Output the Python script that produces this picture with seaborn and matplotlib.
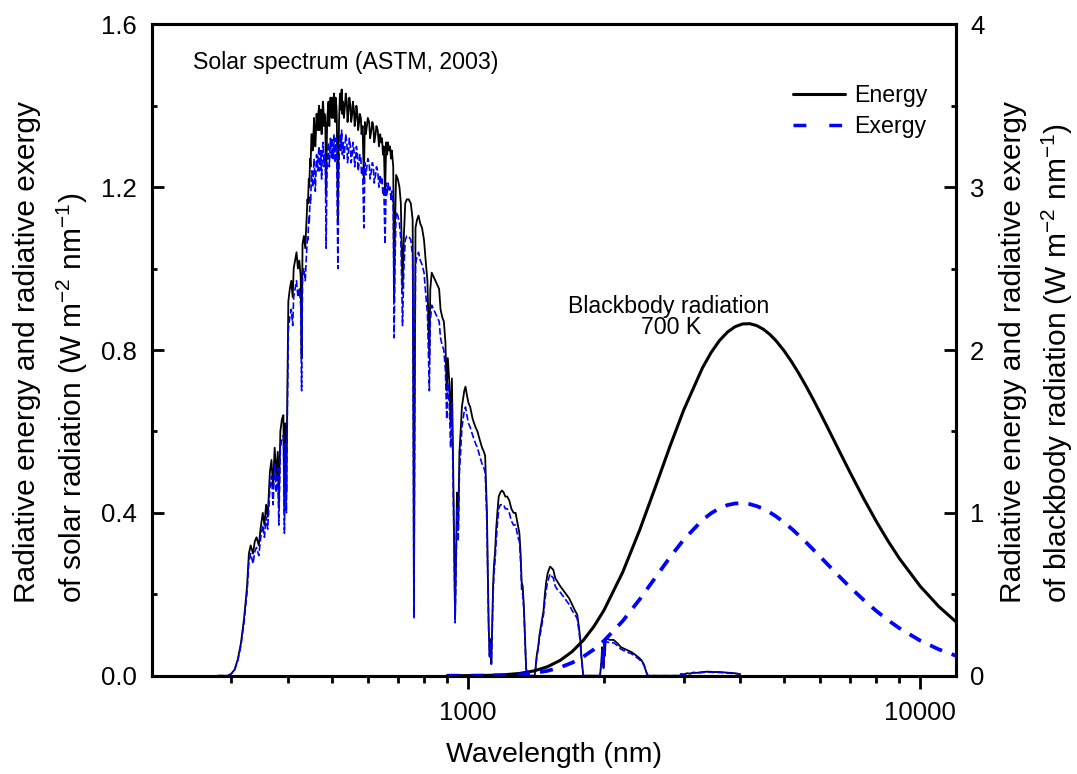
import matplotlib
matplotlib.use("Agg")
import matplotlib.pyplot as plt
import pandas as pd
import seaborn as sns
from matplotlib.lines import Line2D
from matplotlib.ticker import FixedLocator, FixedFormatter, NullFormatter

# ---------------------------------------------------------------------------
# Solar spectrum (ASTM, 2003): wavelength (nm), spectral energy and exergy
# (W m-2 nm-1), left axis
# ---------------------------------------------------------------------------
solar_wl = [
    280, 295, 300, 305, 310, 315, 320, 325, 328, 331,
    335, 338, 341, 345, 348, 352, 355, 358, 361, 365,
    368, 371, 374, 377, 380, 382, 385, 388, 391, 393,
    395, 397, 399, 401, 404, 407, 410, 412, 415, 418,
    421, 424, 427, 429, 431, 434, 437, 440, 442, 443,
    445, 446, 448, 449, 451, 452, 454, 455, 457, 458,
    460, 461, 463, 464, 466, 467, 469, 470, 472, 473,
    475, 476, 478, 479, 481, 482, 484, 486, 488, 489,
    491, 492, 494, 495, 497, 498, 500, 501, 503, 504,
    506, 507, 509, 510, 512, 513, 516, 518, 519, 521,
    522, 524, 526, 528, 530, 532, 535, 537, 540, 542,
    545, 547, 550, 552, 555, 557, 560, 562, 565, 567,
    570, 572, 575, 577, 580, 582, 585, 589, 592, 595,
    598, 601, 605, 608, 612, 615, 618, 621, 625, 628,
    632, 636, 640, 643, 646, 649, 652, 656, 660, 663,
    666, 670, 673, 676, 679, 684, 687, 690, 694, 700,
    706, 711, 717, 722, 727, 733, 740, 748, 755, 758,
    760, 762, 766, 772, 778, 785, 792, 800, 808, 814,
    819, 822, 826, 832, 840, 848, 856, 864, 870, 878,
    885, 892, 898, 903, 910, 916, 922, 927, 932, 937,
    942, 946, 952, 958, 964, 970, 976, 982, 988, 995,
    1003, 1012, 1025, 1040, 1050, 1062, 1075, 1085, 1092, 1097,
    1102, 1107, 1112, 1117, 1122, 1127, 1132, 1137, 1142, 1148,
    1155, 1162, 1170, 1180, 1190, 1200, 1210, 1222, 1235, 1248,
    1262, 1275, 1290, 1300, 1308, 1315, 1322, 1330, 1338, 1345,
    1352, 1405, 1412, 1420, 1430, 1440, 1450, 1460, 1470, 1480,
    1490, 1500, 1510, 1520, 1530, 1545, 1560, 1580, 1600, 1625,
    1650, 1675, 1700, 1725, 1745, 1760, 1772, 1782, 1792, 1800,
    1960, 1975, 1980, 1985, 1990, 1995, 2005, 2010, 2015, 2030,
    2060, 2100, 2140, 2180, 2220, 2260, 2300, 2340, 2380, 2420,
    2450, 2470, 2490, 2500, 2940, 2960, 3000, 3050, 3100, 3150,
    3200, 3300, 3400, 3500, 3600, 3700, 3800, 3900, 4000,
]
solar_energy = [
    0, 0, 0.005, 0.015, 0.04, 0.08, 0.14, 0.22, 0.30, 0.32,
    0.30, 0.33, 0.34, 0.32, 0.36, 0.40, 0.37, 0.42, 0.39, 0.50,
    0.53, 0.46, 0.56, 0.49, 0.55, 0.42, 0.60, 0.63, 0.64, 0.40,
    0.62, 0.45, 0.70, 0.92, 0.95, 0.97, 0.93, 1.00, 1.02, 1.04,
    1.00, 1.02, 0.98, 0.78, 1.06, 1.08, 1.05, 1.12, 1.17, 1.16,
    1.22, 1.20, 1.27, 1.25, 1.33, 1.33, 1.29, 1.31, 1.37, 1.35,
    1.30, 1.32, 1.38, 1.36, 1.34, 1.38, 1.40, 1.34, 1.37, 1.39,
    1.33, 1.36, 1.41, 1.40, 1.35, 1.38, 1.36, 1.18, 1.33, 1.37,
    1.40, 1.41, 1.35, 1.38, 1.42, 1.39, 1.37, 1.42, 1.39, 1.37,
    1.43, 1.40, 1.36, 1.42, 1.40, 1.38, 1.12, 1.30, 1.36, 1.42,
    1.43, 1.39, 1.44, 1.38, 1.41, 1.37, 1.40, 1.43, 1.41, 1.36,
    1.39, 1.42, 1.40, 1.36, 1.38, 1.41, 1.39, 1.35, 1.37, 1.40,
    1.38, 1.34, 1.36, 1.38, 1.37, 1.33, 1.35, 1.22, 1.36, 1.33,
    1.35, 1.37, 1.36, 1.32, 1.34, 1.36, 1.35, 1.31, 1.33, 1.35,
    1.34, 1.30, 1.33, 1.31, 1.32, 1.28, 1.30, 1.18, 1.31, 1.28,
    1.31, 1.29, 1.30, 1.27, 1.29, 1.25, 0.92, 1.10, 1.23, 1.22,
    1.20, 1.16, 0.95, 1.08, 1.16, 1.17, 1.17, 1.16, 1.12, 0.60,
    0.15, 0.55, 1.10, 1.12, 1.13, 1.11, 1.10, 1.07, 1.01, 0.97,
    0.85, 0.78, 0.95, 0.99, 0.98, 0.97, 0.96, 0.95, 0.90, 0.88,
    0.87, 0.82, 0.70, 0.78, 0.72, 0.62, 0.73, 0.55, 0.35, 0.14,
    0.30, 0.45, 0.36, 0.55, 0.60, 0.66, 0.68, 0.70, 0.71, 0.69,
    0.67, 0.66, 0.63, 0.61, 0.60, 0.58, 0.56, 0.55, 0.54, 0.47,
    0.40, 0.25, 0.12, 0.05, 0.09, 0.03, 0.12, 0.22, 0.27, 0.30,
    0.36, 0.40, 0.44, 0.45, 0.455, 0.45, 0.44, 0.44, 0.43, 0.41,
    0.40, 0.40, 0.37, 0.35, 0.30, 0.23, 0.22, 0.17, 0.09, 0.02,
    0, 0, 0.02, 0.05, 0.07, 0.10, 0.12, 0.14, 0.16, 0.20,
    0.23, 0.25, 0.26, 0.268, 0.265, 0.26, 0.24, 0.23, 0.22, 0.21,
    0.20, 0.19, 0.175, 0.16, 0.15, 0.12, 0.09, 0.05, 0.02, 0,
    0, 0.04, 0.07, 0.03, 0.06, 0.02, 0.085, 0.05, 0.088, 0.09,
    0.088, 0.088, 0.08, 0.07, 0.066, 0.062, 0.058, 0.052, 0.046, 0.038,
    0.028, 0.015, 0.004, 0, 0, 0.004, 0.003, 0.006, 0.005, 0.008,
    0.007, 0.009, 0.010, 0.009, 0.009, 0.008, 0.007, 0.006, 0.004,
]
solar_exergy = [
    0, 0, 0.005, 0.014, 0.037, 0.074, 0.13, 0.205, 0.28, 0.30,
    0.275, 0.305, 0.315, 0.295, 0.335, 0.37, 0.34, 0.39, 0.36, 0.46,
    0.49, 0.42, 0.52, 0.45, 0.51, 0.37, 0.56, 0.58, 0.59, 0.35,
    0.57, 0.40, 0.65, 0.85, 0.88, 0.90, 0.86, 0.93, 0.95, 0.97,
    0.93, 0.95, 0.91, 0.70, 0.98, 1.00, 0.97, 1.04, 1.08, 1.07,
    1.13, 1.11, 1.18, 1.16, 1.23, 1.24, 1.20, 1.22, 1.27, 1.25,
    1.19, 1.22, 1.28, 1.26, 1.24, 1.28, 1.30, 1.24, 1.27, 1.29,
    1.22, 1.26, 1.31, 1.30, 1.25, 1.28, 1.26, 1.05, 1.23, 1.27,
    1.30, 1.31, 1.25, 1.28, 1.32, 1.29, 1.27, 1.32, 1.29, 1.27,
    1.33, 1.30, 1.26, 1.32, 1.30, 1.28, 1.00, 1.20, 1.26, 1.32,
    1.33, 1.29, 1.34, 1.28, 1.31, 1.27, 1.30, 1.33, 1.31, 1.26,
    1.29, 1.32, 1.30, 1.26, 1.28, 1.31, 1.29, 1.25, 1.27, 1.30,
    1.28, 1.24, 1.26, 1.28, 1.27, 1.23, 1.25, 1.10, 1.26, 1.23,
    1.25, 1.27, 1.26, 1.22, 1.24, 1.26, 1.25, 1.21, 1.23, 1.25,
    1.24, 1.20, 1.23, 1.21, 1.22, 1.18, 1.20, 1.06, 1.21, 1.18,
    1.21, 1.19, 1.20, 1.17, 1.19, 1.15, 0.83, 1.01, 1.14, 1.13,
    1.11, 1.07, 0.86, 1.00, 1.07, 1.08, 1.08, 1.07, 1.03, 0.55,
    0.14, 0.50, 1.01, 1.03, 1.04, 1.02, 1.01, 0.99, 0.93, 0.89,
    0.77, 0.70, 0.87, 0.91, 0.90, 0.89, 0.88, 0.87, 0.83, 0.81,
    0.80, 0.75, 0.63, 0.72, 0.66, 0.56, 0.67, 0.50, 0.32, 0.13,
    0.27, 0.41, 0.33, 0.50, 0.55, 0.61, 0.63, 0.65, 0.66, 0.64,
    0.62, 0.61, 0.59, 0.57, 0.56, 0.54, 0.52, 0.51, 0.50, 0.44,
    0.37, 0.23, 0.11, 0.046, 0.083, 0.028, 0.11, 0.20, 0.25, 0.28,
    0.33, 0.37, 0.41, 0.42, 0.42, 0.42, 0.41, 0.41, 0.40, 0.38,
    0.37, 0.37, 0.34, 0.33, 0.28, 0.21, 0.20, 0.16, 0.083, 0.018,
    0, 0, 0.018, 0.046, 0.065, 0.093, 0.11, 0.13, 0.15, 0.185,
    0.21, 0.23, 0.24, 0.25, 0.245, 0.24, 0.22, 0.21, 0.205, 0.195,
    0.185, 0.175, 0.16, 0.15, 0.14, 0.11, 0.083, 0.046, 0.018, 0,
    0, 0.037, 0.065, 0.028, 0.055, 0.018, 0.079, 0.046, 0.081, 0.083,
    0.081, 0.081, 0.074, 0.065, 0.061, 0.057, 0.054, 0.048, 0.042, 0.035,
    0.026, 0.014, 0.004, 0, 0, 0.004, 0.003, 0.005, 0.005, 0.007,
    0.006, 0.008, 0.009, 0.008, 0.008, 0.007, 0.006, 0.005, 0.004,
]
assert len(solar_wl) == len(solar_energy) == len(solar_exergy)

# ---------------------------------------------------------------------------
# Blackbody radiation at 700 K: wavelength (nm), spectral energy and exergy
# (W m-2 nm-1), right axis
# ---------------------------------------------------------------------------
bb_wl = [
    900, 1000, 1100, 1200, 1300, 1400, 1500, 1600, 1700, 1800, 1900, 2000,
    2200, 2400, 2600, 2800, 3000, 3300, 3450, 3600, 3750, 3900, 4050, 4200,
    4350, 4500, 4650, 4800, 5000, 5200, 5400, 5600, 5800, 6000, 6250, 6500,
    6750, 7000, 7500, 8000, 8500, 9000, 10000, 11000, 12000,
]
bb_energy = [
    0.0001, 0.0004, 0.0018, 0.0055, 0.0137, 0.0293, 0.0551, 0.0941, 0.1478,
    0.2175, 0.3028, 0.4024, 0.6359, 0.8971, 1.1617, 1.4112, 1.6310, 1.8896,
    1.9847, 2.0581, 2.1102, 2.1435, 2.1599, 2.1615, 2.1500, 2.1276, 2.0961,
    2.0570, 1.9958, 1.9268, 1.8527, 1.7755, 1.6968, 1.6178, 1.5204, 1.4255,
    1.3345, 1.2475, 1.0879, 0.9471, 0.8248, 0.7189, 0.5495, 0.4241, 0.3309,
]
bb_exergy = [
    0.0001, 0.0002, 0.0010, 0.0030, 0.0075, 0.0160, 0.0299, 0.0509, 0.0797,
    0.1168, 0.1619, 0.2144, 0.3361, 0.4704, 0.6043, 0.7283, 0.8351, 0.9558,
    0.9977, 1.0282, 1.0479, 1.0578, 1.0593, 1.0535, 1.0414, 1.0247, 1.0032,
    0.9785, 0.9417, 0.9018, 0.8600, 0.8175, 0.7749, 0.7328, 0.6819, 0.6330,
    0.5868, 0.5433, 0.4648, 0.3975, 0.3400, 0.2913, 0.2154, 0.1613, 0.1224,
]

# Axis ticks
x_major = [1000, 10000]
x_major_labels = ["1000", "10000"]
x_minor = [300, 400, 500, 600, 700, 800, 900,
           2000, 3000, 4000, 5000, 6000, 7000, 8000, 9000]
left_major = [0.0, 0.4, 0.8, 1.2, 1.6]
left_major_labels = ["0.0", "0.4", "0.8", "1.2", "1.6"]
left_minor = [0.2, 0.6, 1.0, 1.4]
right_major = [0, 1, 2, 3, 4]
right_major_labels = ["0", "1", "2", "3", "4"]
right_minor = [0.5, 1.5, 2.5, 3.5]

solar = pd.DataFrame({"wl": solar_wl, "energy": solar_energy, "exergy": solar_exergy})
bb = pd.DataFrame({"wl": bb_wl, "energy": bb_energy, "exergy": bb_exergy})

sns.set_style("ticks")
plt.rcParams["font.family"] = ["Liberation Sans", "DejaVu Sans"]
plt.rcParams["mathtext.fontset"] = "custom"
plt.rcParams["mathtext.rm"] = "Liberation Sans"
plt.rcParams["mathtext.it"] = "Liberation Sans:italic"
plt.rcParams["mathtext.bf"] = "Liberation Sans:bold"
for key in ("text.color", "axes.labelcolor", "xtick.color", "ytick.color",
            "axes.edgecolor"):
    plt.rcParams[key] = "black"

W, H = 1077, 774
fig = plt.figure(figsize=(W / 100, H / 100), dpi=100)
L, R, T, B = 151.7, 956.0, 24.3, 675.7
ax = fig.add_axes([L / W, 1 - B / H, (R - L) / W, (B - T) / H])
ax2 = ax.twinx()

BLUE = "#0000ff"

# Solar spectrum on the left axis
sns.lineplot(data=solar, x="wl", y="energy", ax=ax, color="black",
             linewidth=1.3, estimator=None, sort=False)
sns.lineplot(data=solar, x="wl", y="exergy", ax=ax, color=BLUE,
             linewidth=1.2, estimator=None, sort=False)
ax.lines[-1].set_dashes([4, 1.6])

# 700 K blackbody on the right axis
sns.lineplot(data=bb, x="wl", y="energy", ax=ax2, color="black",
             linewidth=2.2, estimator=None, sort=False)
sns.lineplot(data=bb, x="wl", y="exergy", ax=ax2, color=BLUE,
             linewidth=2.7, estimator=None, sort=False)
ax2.lines[-1].set_dashes([3.5, 2.7])

ax.set_xscale("log")
ax.set_xlim(200, 12000)
ax.set_ylim(0, 1.6)
ax2.set_ylim(0, 4)

ax.xaxis.set_major_locator(FixedLocator(x_major))
ax.xaxis.set_major_formatter(FixedFormatter(x_major_labels))
ax.xaxis.set_minor_locator(FixedLocator(x_minor))
ax.xaxis.set_minor_formatter(NullFormatter())
ax.yaxis.set_major_locator(FixedLocator(left_major))
ax.yaxis.set_major_formatter(FixedFormatter(left_major_labels))
ax.yaxis.set_minor_locator(FixedLocator(left_minor))
ax2.yaxis.set_major_locator(FixedLocator(right_major))
ax2.yaxis.set_major_formatter(FixedFormatter(right_major_labels))
ax2.yaxis.set_minor_locator(FixedLocator(right_minor))

ax.set_xlabel("")
ax.set_ylabel("")
ax2.set_ylabel("")

ax.tick_params(axis="x", which="major", direction="out", length=9, width=2,
               labelsize=18.5, pad=9, top=False, color="black")
ax.tick_params(axis="x", which="minor", direction="out", length=4.8, width=2,
               top=False, color="black")
ax.tick_params(axis="y", which="major", direction="in", length=8.4, width=2,
               labelsize=18.5, pad=10.5, right=False, color="black")
ax.tick_params(axis="y", which="minor", direction="in", length=3.6, width=2,
               right=False, color="black")
ax2.tick_params(axis="y", which="major", direction="in", length=8.4, width=2,
                labelsize=18.5, pad=10, color="black")
ax2.tick_params(axis="y", which="minor", direction="in", length=3.6, width=2,
                color="black")

for a in (ax, ax2):
    for sp in a.spines.values():
        sp.set_visible(True)
        sp.set_linewidth(2.2)
        sp.set_color("black")

# Axis titles (two-line y titles share a common starting point)
fig.text(554 / W, 1 - 755 / H, "Wavelength (nm)", ha="center", va="center",
         fontsize=20.5)
y_start = 1 - 603 / H
fig.text(27 / W, y_start, "Radiative energy and radiative exergy", rotation=90,
         ha="center", va="bottom", fontsize=21.5)
fig.text(72 / W, y_start, "of solar radiation (W m$^{-2}$ nm$^{-1}$)",
         rotation=90, ha="center", va="bottom", fontsize=21.5)
fig.text(1013 / W, y_start, "Radiative energy and radiative exergy",
         rotation=90, ha="center", va="bottom", fontsize=21.5)
fig.text(1057 / W, y_start, "of blackbody radiation (W m$^{-2}$ nm$^{-1}$)",
         rotation=90, ha="center", va="bottom", fontsize=21.5)

# Annotations
fig.text(193 / W, 1 - 62 / H, "Solar spectrum (ASTM, 2003)", ha="left",
         va="center", fontsize=16.7)
fig.text(669 / W, 1 - 306 / H, "Blackbody radiation", ha="center",
         va="center", fontsize=16.7)
fig.text(671 / W, 1 - 328 / H, "700 K", ha="center", va="center",
         fontsize=16.7)

# Legend
handles = [
    Line2D([], [], color="black", linewidth=2.2),
    Line2D([], [], color=BLUE, linewidth=2.5, dashes=[3.7, 6.6]),
]
ax2.legend(handles, ["Energy", "Exergy"], loc="upper left",
           bbox_to_anchor=(793 / W, 1 - 84 / H), bbox_transform=fig.transFigure,
           frameon=False, fontsize=16.7, handlelength=2.25, handletextpad=0.4,
           labelspacing=0.35, borderpad=0, borderaxespad=0)

fig.savefig("out.png", dpi=100)
